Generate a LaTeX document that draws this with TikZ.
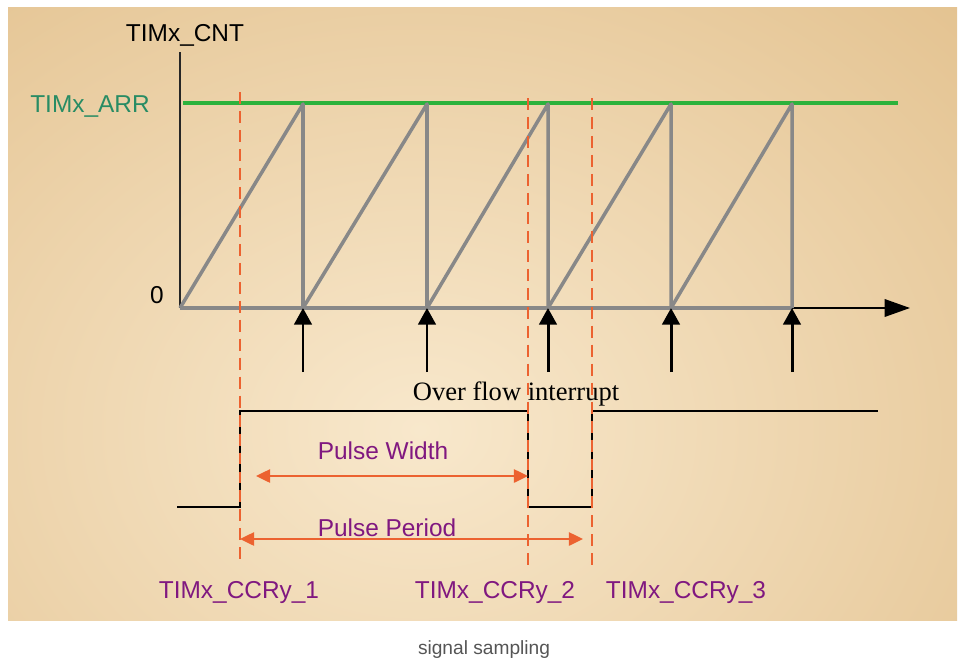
\documentclass[tikz,border=0pt]{standalone}
\usepackage{fontspec}
\setmainfont{Liberation Serif}
\setsansfont{Liberation Sans}
\usetikzlibrary{arrows.meta, positioning}

\definecolor{paper}{RGB}{224,188,134}
\definecolor{paperlight}{RGB}{248,232,204}
\definecolor{arrgreen}{RGB}{44,178,60}
\definecolor{arrtext}{RGB}{40,140,100}
\definecolor{sawgray}{RGB}{136,136,136}
\definecolor{ccrred}{RGB}{236,98,48}
\definecolor{lblpurple}{RGB}{128,24,128}
\definecolor{capgray}{RGB}{85,85,85}

\begin{document}
\begin{tikzpicture}[x=0.02cm,y=-0.02cm,
    lbl/.style={font=\sffamily\fontsize{13.9}{16}\selectfont,inner sep=0pt,anchor=base},
    saw/.style={sawgray,line width=2pt,line join=round},
    irq/.style={line width=1.7pt,-{Triangle[width=10pt,length=9.5pt]}},
    ccr/.style={ccrred,line width=1.3pt,dash pattern=on 6.8pt off 4pt},
    pulse/.style={line width=1.6pt},
    dim/.style={ccrred,line width=1.2pt,{Triangle[width=7.5pt,length=8pt]}-{Triangle[width=7.5pt,length=8pt]}}]
        % page and paper
        \useasboundingbox (0,0) rectangle (963,666);
        \fill[white] (0,0) rectangle (963,666);
        \fill[paper] (8,7) rectangle (957,620);
        \begin{scope}
            \clip (8,7) rectangle (957,620);
            \shade[inner color=paperlight,outer color=paper] (420,430) ellipse (900 and 720);
        \end{scope}

        % axes
        \coordinate (origin) at (180,308);
        \coordinate (cnt_top) at (180,52);
        \coordinate (t_end) at (910,308);
        \draw[line width=0.9pt,black!85] (origin) -- (cnt_top);
        \draw[line width=1.1pt,-{Triangle[width=10pt,length=14.5pt]}] (origin) -- (t_end);
        \coordinate (arr_left) at (183,103);
        \coordinate (arr_right) at (898,103);
        \draw[arrgreen,line width=1.8pt] (arr_left) -- (arr_right);

        \node[lbl] (cnt_lbl) at (185,41) {TIMx\_CNT};
        \node[lbl,text=arrtext] (arr_lbl) at (90,112) {TIMx\_ARR};
        \node[lbl] (zero_lbl) at (157,303) {0};

        % counter ramps and overflow interrupts
        \draw[saw] (origin) -- (792,308);
        \coordinate (ramp_0) at (origin);
        \foreach \x/\n [count=\p from 0] in {303/1,427/2,548/3,671/4,792/5}{
            \coordinate (peak_\n) at (\x,104);
            \coordinate (ramp_\n) at (\x,308);
            \coordinate (irq_\n) at (\x,372);
            \draw[saw] (ramp_\p) -- (peak_\n) -- (ramp_\n);
            \draw[irq] (irq_\n) -- (ramp_\n);
        }
        \node[font=\fontsize{15.1}{18}\selectfont,inner sep=0pt,anchor=base] (ovf_lbl) at (516,400) {Over flow interrupt};

        % input signal
        \draw[pulse] (177,507) -- (240,507) -- (240,411) -- (528,411)
                     -- (528,507) -- (592,507) -- (592,411) -- (878,411);

        % capture instants
        \coordinate (ccr_top_1) at (240,92);
        \coordinate (ccr_bot_1) at (240,560);
        \coordinate (ccr_top_2) at (528,98);
        \coordinate (ccr_bot_2) at (528,567);
        \coordinate (ccr_top_3) at (592,98);
        \coordinate (ccr_bot_3) at (592,572);
        \foreach \n in {1,2,3}
            \draw[ccr] (ccr_top_\n) -- (ccr_bot_\n);

        \node[lbl,text=lblpurple] (ccr_lbl_1) at (239,598) {TIMx\_CCRy\_1};
        \node[lbl,text=lblpurple] (ccr_lbl_2) at (495,598) {TIMx\_CCRy\_2};
        \node[lbl,text=lblpurple] (ccr_lbl_3) at (686,598) {TIMx\_CCRy\_3};

        % width and period
        \coordinate (pw_start) at (256,476);
        \coordinate (pw_end) at (528,476);
        \coordinate (pp_start) at (240,539);
        \coordinate (pp_end) at (583,539);
        \draw[dim] (pw_start) -- (pw_end);
        \draw[dim] (pp_start) -- (pp_end);
        \node[lbl,text=lblpurple] (pw_lbl) at (383,459) {Pulse Width};
        \node[lbl,text=lblpurple] (pp_lbl) at (387,536) {Pulse Period};

        \node[font=\sffamily\fontsize{10.9}{13}\selectfont,text=capgray,inner sep=0pt,anchor=base] (caption) at (484,654) {signal sampling};
\end{tikzpicture}
\end{document}
